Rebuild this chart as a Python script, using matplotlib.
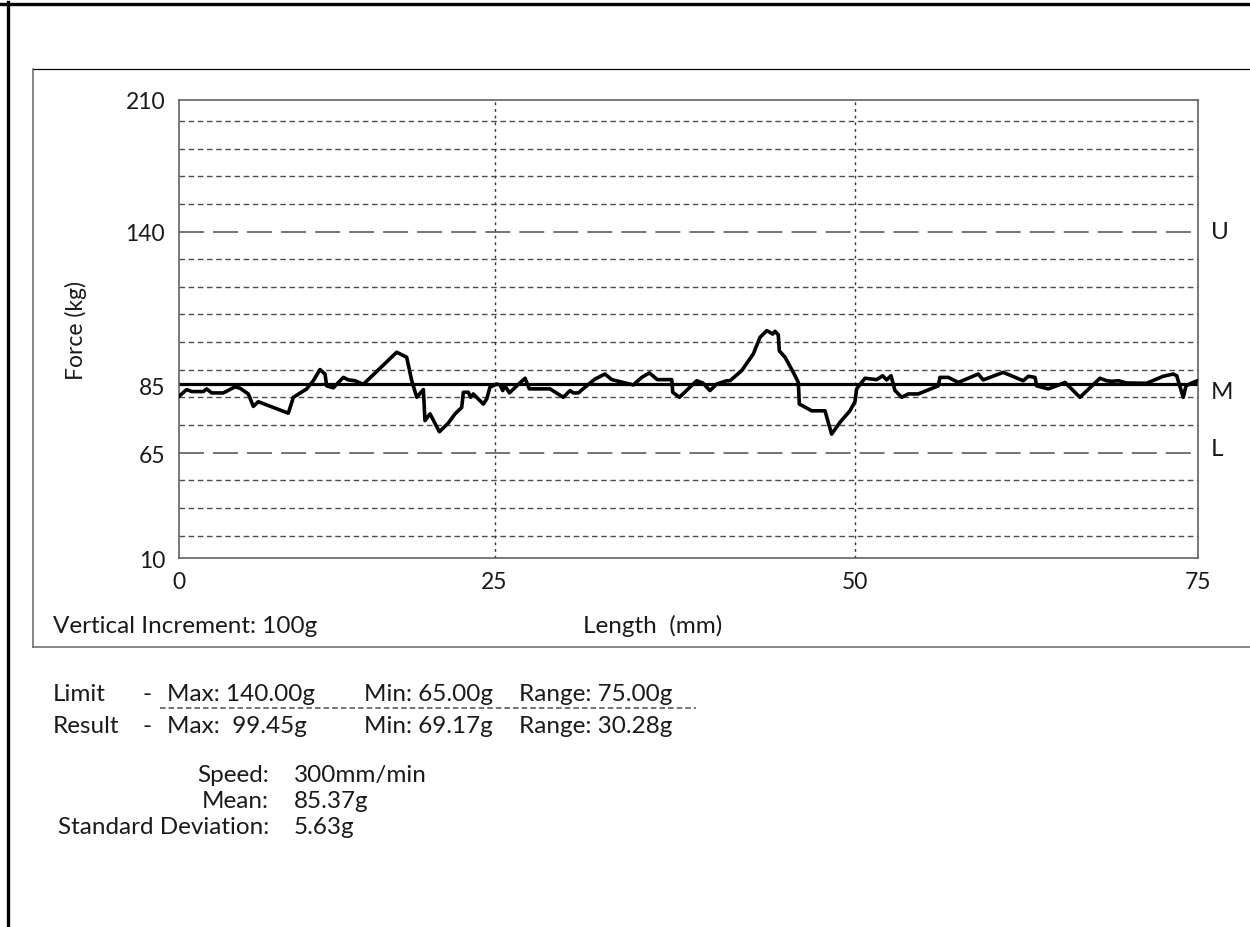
import numpy as np
import matplotlib
matplotlib.use("Agg")
import matplotlib.pyplot as plt
from matplotlib.lines import Line2D

plt.rcParams['font.family'] = ['Lato', 'DejaVu Sans']
plt.rcParams['lines.scale_dashes'] = False

# force trace
length_mm = [0, 0.61, 1.01, 1.93, 2.19, 2.59, 3.51, 4.44, 4.83, 5.49,
             5.89, 6.28, 8.66, 9.06, 10.12, 10.64, 11.17, 11.57, 11.70, 12.23,
             12.50, 13.02, 13.42, 13.95, 14.60, 17.25, 18.04, 18.44, 18.84, 19.36,
             19.49, 19.89, 20.63, 21.34, 21.87, 22.40, 22.53, 22.92, 23.11, 23.32,
             24.11, 24.38, 24.64, 25.15, 25.38, 25.57, 25.73, 26.03, 26.54, 27.12,
             27.41, 28.85, 29.77, 30.24, 30.46, 30.81, 31.39, 31.97, 32.66, 33.13,
             34.63, 35.21, 35.74, 36.29, 37.29, 37.36, 37.82, 39.02, 39.44, 39.94,
             40.41, 41.10, 41.33, 42.14, 42.95, 43.41, 43.88, 44.11, 44.29, 44.45,
             44.68, 44.75, 45.15, 45.72, 46.07, 46.14, 47.00, 47.92, 48.38, 48.96,
             49.65, 50.00, 50.12, 50.73, 51.58, 52.02, 52.31, 52.63, 52.92, 53.41,
             53.89, 54.62, 56.08, 56.20, 56.81, 57.54, 59.00, 59.36, 60.82, 62.28,
             62.65, 63.14, 63.26, 64.11, 64.72, 65.33, 66.42, 67.88, 68.37, 68.74,
             69.22, 69.83, 71.29, 72.50, 73.23, 73.48, 73.96, 74.16, 74.58, 75.00]
force_kg = [81.8, 83.8, 83.2, 83.2, 84.0, 82.8, 82.8, 84.6, 84.2, 82.5,
            78.8, 80.2, 76.8, 81.5, 84.0, 86.7, 90.7, 89.1, 84.9, 84.3,
            85.5, 87.9, 87.0, 86.7, 85.4, 96.9, 95.1, 86.7, 81.5, 83.8,
            74.6, 76.6, 71.3, 73.9, 76.6, 78.5, 83.0, 83.0, 81.5, 82.5,
            79.5, 81.0, 84.5, 85.5, 85.2, 83.5, 84.9, 82.8, 84.9, 87.6,
            84.0, 84.0, 81.5, 83.5, 82.8, 82.8, 84.9, 87.3, 89.1, 87.1,
            85.2, 87.9, 89.5, 87.1, 87.1, 83.0, 81.5, 86.7, 85.9, 83.5,
            85.5, 86.7, 86.7, 90.3, 96.3, 102.2, 104.6, 104.0, 103.4, 104.4,
            103.1, 97.4, 95.1, 89.7, 86.1, 79.5, 77.5, 77.5, 70.6, 74.1,
            77.5, 80.2, 84.0, 87.6, 87.1, 88.5, 87.0, 88.5, 83.5, 81.5,
            82.5, 82.5, 84.9, 87.9, 87.9, 86.1, 89.1, 87.0, 89.7, 86.7,
            88.3, 87.9, 84.9, 84.0, 84.9, 86.1, 81.5, 87.6, 86.7, 86.5,
            86.7, 85.9, 85.8, 88.3, 89.1, 88.5, 81.5, 84.9, 85.9, 86.7]

x_ticks = [0, 25, 50, 75]
y_ticks = [10, 65, 85, 140, 210]
upper_limit = 140
lower_limit = 65
mean_force = 85.37

limit_row = ["Limit", "-", "Max: 140.00g", "Min: 65.00g", "Range: 75.00g"]
result_row = ["Result", "-", "Max:  99.45g", "Min: 69.17g", "Range: 30.28g"]
info_labels = ["Speed:", "Mean:", "Standard Deviation:"]
info_values = ["300mm/min", "85.37g", "5.63g"]

# the printed chart is not linear, so map the tick values piecewise
x_pos = [0, 0.3098, 0.6637, 1.0]
y_pos = [0, 0.2296, 0.3768, 0.7122, 1.0]

def x_fwd(v):
    return np.interp(v, x_ticks, x_pos)

def x_inv(p):
    return np.interp(p, x_pos, x_ticks)

def y_fwd(v):
    return np.interp(v, y_ticks, y_pos)

def y_inv(p):
    return np.interp(p, y_pos, y_ticks)

W, H = 1250, 928
def fx(px):
    return px / W
def fy(py):
    return 1 - py / H

txt = '#1a1a1a'
grey = '#4d4d4d'
fs = 17.5

fig = plt.figure(figsize=(12.5, 9.28), dpi=100)
ax = fig.add_axes([fx(179), fy(559.3), (1197.5 - 179) / W, 458.6 / H])
ax.set_xscale('function', functions=(x_fwd, x_inv))
ax.set_yscale('function', functions=(y_fwd, y_inv))
ax.set_xlim(0, 75)
ax.set_ylim(10, 210)

# horizontal grid, evenly spaced on paper
grid = [0.0493 + 0.0603 * k for k in range(16) if k not in (3, 11)]
ax.hlines(grid, 0, 1, transform=ax.transAxes, color=grey, lw=1.0,
          linestyles=(0, (4.0, 2.6)), zorder=1)
for v in x_ticks[1:-1]:
    ax.axvline(v, color='#333333', lw=1.0, linestyle=(0, (2.0, 2.8)), zorder=1)

ax.axhline(upper_limit, color=grey, lw=1.1, linestyle=(0, (18, 6.5)), zorder=1)
ax.axhline(lower_limit, color=grey, lw=1.1, linestyle=(0, (18, 6.5)), zorder=1)
ax.axhline(mean_force, color='black', lw=2.3, zorder=2)

ax.plot(length_mm, force_kg, color='black', lw=2.6, zorder=3)

ax.set_xticks(x_ticks)
ax.set_xticklabels([str(t) for t in x_ticks])
ax.set_yticks(y_ticks)
ax.set_yticklabels([str(t) for t in y_ticks])
ax.minorticks_off()
ax.tick_params(length=0, labelsize=16.5, labelcolor=txt)
ax.tick_params(axis='y', pad=10)
ax.tick_params(axis='x', pad=9)
for s in ax.spines.values():
    s.set_color('#555555')
    s.set_linewidth(1.1)

tr = ax.get_yaxis_transform()
ax.text(1.013, upper_limit, "U", transform=tr, fontsize=fs, color=txt, va='center', ha='left')
ax.annotate("M", xy=(1.013, mean_force), xycoords=tr, xytext=(0, -5),
            textcoords='offset points', fontsize=fs, color=txt, va='center', ha='left')
ax.annotate("L", xy=(1.013, lower_limit), xycoords=tr, xytext=(0, 3),
            textcoords='offset points', fontsize=fs, color=txt, va='center', ha='left')

fig.text(fx(76), fy(331), "Force (kg)", rotation=90, fontsize=16.5, color=txt,
         ha='center', va='center')
fig.text(fx(653), fy(633), "Length  (mm)", fontsize=fs, color=txt, ha='center', va='baseline')
fig.text(fx(53), fy(633), "Vertical Increment: 100g", fontsize=fs, color=txt,
         ha='left', va='baseline')

# frames around the print
fig.add_artist(Line2D([0, 1], [fy(4.5)] * 2, color='black', lw=2.4))
fig.add_artist(Line2D([fx(7.5)] * 2, [fy(3), 0], color='black', lw=2.4))
fig.add_artist(Line2D([fx(33), 1], [fy(70)] * 2, color='black', lw=0.9))
fig.add_artist(Line2D([fx(33)] * 2, [fy(70), fy(648)], color='#666666', lw=1.1))
fig.add_artist(Line2D([fx(33), 1], [fy(648)] * 2, color='#666666', lw=1.1))

# limit / result table
cols = [53, 142, 167, 364, 519]
for row, base in ((limit_row, 701), (result_row, 733)):
    for c, s in zip(cols, row):
        fig.text(fx(c), fy(base), s, fontsize=fs, color=txt, ha='left', va='baseline')
fig.add_artist(Line2D([fx(160), fx(696)], [fy(709)] * 2, color=grey, lw=1.1,
                      linestyle=(0, (4.0, 2.2))))

for i, (lab, val) in enumerate(zip(info_labels, info_values)):
    base = 782 + 26 * i
    fig.text(fx(269), fy(base), lab, fontsize=fs, color=txt, ha='right', va='baseline')
    fig.text(fx(294), fy(base), val, fontsize=fs, color=txt, ha='left', va='baseline')

fig.savefig('out.png', dpi=100)
